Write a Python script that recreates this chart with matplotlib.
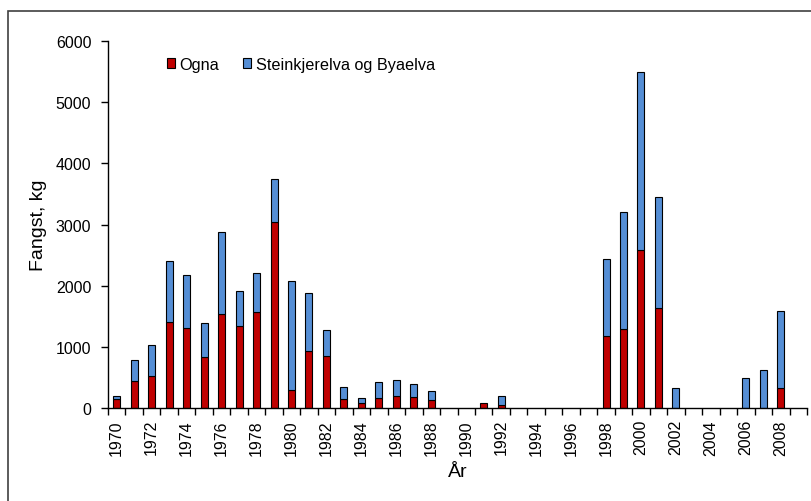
import matplotlib
matplotlib.use("Agg")
import matplotlib.pyplot as plt
from matplotlib.patches import Rectangle

plt.rcParams['font.family'] = ['Liberation Sans', 'DejaVu Sans']

years = list(range(1970, 2010))
ogna = [150, 435, 517, 1410, 1312, 833, 1541, 1334, 1563, 3044,
        294, 937, 855, 150, 87, 158, 196, 174, 130, 0,
        0, 75, 49, 0, 0, 0, 0, 0, 1181, 1290,
        2581, 1639, 0, 0, 0, 0, 0, 0, 332, 0]
totals = [190, 790, 1023, 2396, 2167, 1394, 2881, 1917, 2206, 3747,
          2080, 1873, 1269, 340, 158, 430, 452, 387, 283, 0,
          0, 75, 201, 0, 0, 0, 0, 0, 2434, 3208,
          5500, 3453, 332, 0, 0, 0, 495, 621, 1580, 0]
steink = [t - o for t, o in zip(totals, ogna)]
tick_labels = [str(y) if y % 2 == 0 else "" for y in years]
yticks = [0, 1000, 2000, 3000, 4000, 5000, 6000]

fig = plt.figure(figsize=(8.12, 5.02), dpi=100)
fig.patches.append(Rectangle((8/812, -0.1), 1.2, 1 - 12/502 + 0.1, transform=fig.transFigure,
                             fill=False, edgecolor='#404040', linewidth=1.2))
ax = fig.add_axes([108/812, 1 - 409/502, 699/812, 367/502])

x = list(range(len(years)))
red = '#C00000'
blue = '#558ED5'
b1 = ax.bar(x, ogna, width=0.4, color=red, edgecolor='black', linewidth=0.8, label='Ogna')
b2 = ax.bar(x, steink, width=0.4, bottom=ogna, color=blue, edgecolor='black', linewidth=0.8,
            label='Steinkjerelva og Byaelva')
for bars, vals in ((b1, ogna), (b2, steink)):
    for r, v in zip(bars, vals):
        if v == 0:
            r.set_visible(False)

ax.set_xlim(-0.5, len(years) - 0.5)
ax.set_ylim(0, 6000)
ax.set_yticks(yticks)
ax.set_yticklabels([str(v) for v in yticks], fontsize=11.5)
ax.set_xticks(x)
ax.set_xticklabels(tick_labels, rotation=90, fontsize=11.5)
ax.tick_params(axis='x', which='major', length=0, pad=8)
ax.set_xticks([i - 0.5 for i in range(len(years) + 1)], minor=True)
ax.tick_params(axis='x', which='minor', length=5, width=1, direction='out')
ax.tick_params(axis='y', length=5, width=1, direction='out', pad=7)

for s in ('top', 'right'):
    ax.spines[s].set_visible(False)
ax.spines['left'].set_linewidth(1)
ax.spines['bottom'].set_linewidth(1)

ax.set_ylabel('Fangst, kg', fontsize=14, labelpad=6)
ax.set_xlabel('År', fontsize=14, labelpad=6)

leg = ax.legend(loc='upper left', bbox_to_anchor=(0.0745, 0.975), ncol=2, frameon=False,
                fontsize=11.7, handlelength=0.5, handleheight=0.5, handletextpad=0.3,
                columnspacing=1.45, borderaxespad=0)

fig.savefig('out.png', dpi=100)
